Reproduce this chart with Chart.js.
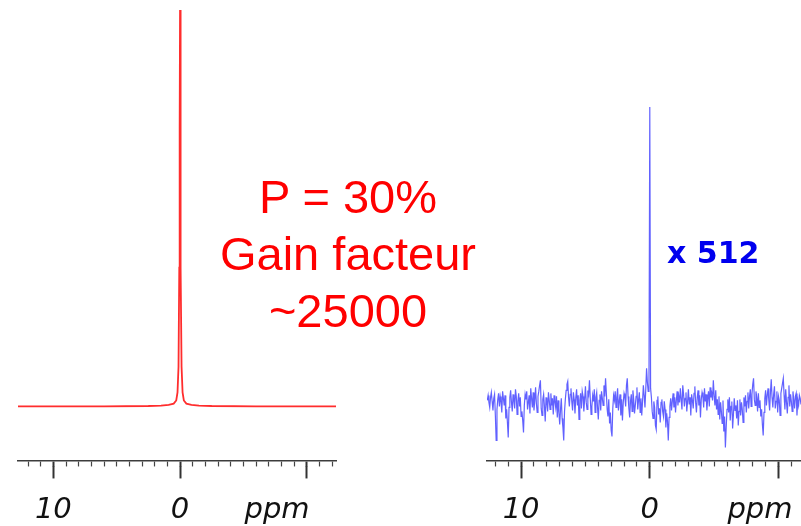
<!DOCTYPE html>
<html>
<head>
<meta charset="utf-8">
<title>Spectres RMN</title>
<script src="https://cdn.jsdelivr.net/npm/chart.js@4"></script>
<style>
  html, body { margin: 0; padding: 0; background: #fff; }
  #wrap { position: relative; width: 801px; height: 526px; overflow: hidden; }
  canvas { position: absolute; top: 0; }
  #hp { left: 0; }
  #thermal { left: 400px; }
  #gain {
    position: absolute; left: 148px; top: 168px; width: 400px;
    text-align: center; color: #ff0000;
    font-family: 'Liberation Sans', Arial, sans-serif; font-size: 47px; line-height: 57px;
  }
  #factor {
    position: absolute; left: 667px; top: 238px; white-space: nowrap;
    color: #0000ee; font-family: 'DejaVu Sans', sans-serif; font-weight: bold;
    font-size: 30px; line-height: 30px;
  }
</style>
</head>
<body>
<div id="wrap">
  <canvas id="hp" width="400" height="526"></canvas>
  <canvas id="thermal" width="401" height="526"></canvas>
  <div id="gain">P = 30%<br>Gain facteur<br>~25000</div>
  <div id="factor">x 512</div>
</div>
<script>
// Hyperpolarised spectrum (left): chemical shift (ppm) and normalised intensity
const hpPpm = [12.79, 6, 2.5, 1.5, 0.9, 0.5, 0.3, 0.2, 0.12, 0.06, 0.03, 0,
               -0.03, -0.06, -0.12, -0.2, -0.3, -0.5, -0.9, -1.5, -2.5, -6, -12.31];
const hpIntensity = [0, 0, 0.001, 0.002, 0.004, 0.007, 0.015, 0.035, 0.1, 0.35, 0.7, 1.0,
                     0.7, 0.35, 0.1, 0.035, 0.015, 0.007, 0.004, 0.002, 0.001, 0, 0];

// Thermal spectrum (right), shown x 512: uniformly sampled from thermalStart ppm downwards
const thermalStart = 12.625;
const thermalStep = 0.0625;
const thermalIntensity = [
  3, 8, 1, -4, 6, 11, 2, -7, 5, 9, -12, -37, -6, 4, 10, -3, 7,
  2, -9, 12, 5, -2, 8, -15, -6, -19, -34, -4, 6, 13, 1, -8, 9, 3,
  -5, 14, 7, -11, 2, 10, -3, 6, -13, -8, -17, -29, -2, 9, 4, 12, -6,
  1, 8, -10, 15, 5, -4, 11, -7, 3, 16, 0, -9, 7, 12, 18, 23, -5,
  -12, 4, 9, -3, -18, 6, 1, -8, 11, 3, -6, 10, -2, 5, -11, 8, 2,
  -4, 7, -14, 3, -9, -21, -6, 5, -15, -24, -37, -8, 4, 13, 19, 22, 6,
  -3, 9, 15, 2, -7, 11, 4, -10, 6, 14, -2, 8, -16, 3, 10, -5, 12,
  7, -8, 4, 17, 1, -6, 13, 9, 23, 5, -11, -3, 8, 2, 14, -9, 6,
  11, -4, -16, 3, 9, -7, 12, 5, -2, 18, 7, 25, 10, -6, -13, 4, -20,
  -9, -27, -33, -5, 8, 3, 12, -4, 6, 15, -7, 2, 9, -12, 4, -17, 1,
  10, 6, -3, 18, 25, 7, -5, -14, 2, 9, -8, 13, 4, -10, -2, 7, 16,
  -6, 3, 11, -9, 5, -12, 2, 18, 8, -4, 14, 35, 21, 12, 24, 296, 15,
  6, -8, -15, 2, -4, -22, -26, 3, 7, -11, -5, -19, 1, 4, -8, -13, 2,
  -6, -24, -10, -18, -37, -14, -3, 5, -7, 2, 10, -4, 6, -9, 3, 12, -2,
  7, 1, 15, 4, -6, 18, 9, -3, 5, 11, -8, 2, 14, -1, 6, -12, 9,
  3, -5, 10, 17, 1, -9, 6, 13, -2, 8, -14, 4, 11, 7, -4, 15, 2,
  9, -7, 5, 12, -3, 16, 6, 10, 3, 23, 8, -2, 13, -6, 4, -11, 7,
  -16, 1, -8, -20, 3, -28, -13, -44, -24, -6, 4, -9, 6, -17, -3, 2, -25,
  -11, 5, -7, -2, -15, 3, -22, -8, 4, -12, 1, -6, -19, 6, -3, 8, -9,
  2, 11, -5, 7, 14, -3, 9, 19, 25, 4, -2, 12, 6, -8, 10, -4, 3,
  -13, -6, -21, -32, -9, 5, 13, -2, 8, 15, 3, -7, 11, 24, 6, -4, 9,
  17, -5, 2, 12, -9, 7, 3, -12, 10, 15, 20, 25, 8, -6, 14, 1, -10,
  6, 18, -3, 9, 2, -8, 12, 4, -5, 7, 10, -12, 3, -2, 8, 5, -1
];

// Axis labelling
const majorTicks = [10, 0, -10];
const majorLabels = ['10', '0', ''];
const unitLabel = 'ppm';

const hpPoints = hpPpm.map((x, i) => ({ x, y: hpIntensity[i] }));
const thermalPoints = thermalIntensity.map((y, i) => ({ x: thermalStart - i * thermalStep, y }));

function spectrumChart(canvas, points, line, xRange, yRange, padding, unitAt) {
  return new Chart(canvas, {
    type: 'line',
    data: {
      datasets: [{
        data: points,
        borderColor: line.color,
        borderWidth: line.width,
        pointRadius: 0,
        tension: 0,
        fill: false
      }]
    },
    options: {
      responsive: false,
      animation: false,
      devicePixelRatio: 1,
      layout: { padding },
      plugins: { legend: { display: false }, tooltip: { enabled: false } },
      scales: {
        // axis line with 1 ppm minor ticks
        x: {
          type: 'linear', reverse: true, min: xRange[0], max: xRange[1],
          position: 'bottom', weight: 0,
          ticks: { stepSize: 1, display: false, autoSkip: false, includeBounds: false },
          grid: {
            drawOnChartArea: false, drawTicks: true, tickLength: 6,
            tickWidth: c => (c.tick && c.tick.value % 10 === 0) ? 2 : 1.2,
            tickColor: c => (c.tick && c.tick.value % 10 === 0) ? '#333' : '#444'
          },
          border: { display: true, color: '#3c3c3c', width: 1.6 }
        },
        // long 10 ppm ticks with the labels
        xLabels: {
          type: 'linear', reverse: true, min: xRange[0], max: xRange[1],
          position: 'bottom', weight: 1,
          afterBuildTicks: axis => {
            axis.ticks = majorTicks.map(v => ({ value: v }))
              .concat([{ value: unitAt }])
              .sort((a, b) => b.value - a.value);
          },
          ticks: {
            autoSkip: false, maxRotation: 0, minRotation: 0, padding: 16.6,
            color: '#111',
            font: { family: 'DejaVu Sans', style: 'italic', size: 29, lineHeight: 1.081 },
            callback: v => v === unitAt ? unitLabel : majorLabels[majorTicks.indexOf(v)]
          },
          grid: {
            drawOnChartArea: false, drawTicks: true, tickLength: 12, tickWidth: 2,
            tickColor: c => (c.tick && c.tick.value === unitAt) ? 'rgba(0,0,0,0)' : '#333'
          },
          border: { display: false }
        },
        y: { display: false, min: yRange[0], max: yRange[1] }
      }
    }
  });
}

spectrumChart(document.getElementById('hp'), hpPoints,
  { color: 'rgb(255,45,45)', width: 1.8 },
  [-12.31, 12.79], [-0.1364, 1.0253],
  { left: 18, right: 64, top: 0, bottom: -17 }, -7.66);

spectrumChart(document.getElementById('thermal'), thermalPoints,
  { color: 'rgba(0,0,255,0.62)', width: 1.2 },
  [-11.75, 12.65], [-57, 403],
  { left: 87, right: 0, top: 0, bottom: -17 }, -8.56);
</script>
</body>
</html>
